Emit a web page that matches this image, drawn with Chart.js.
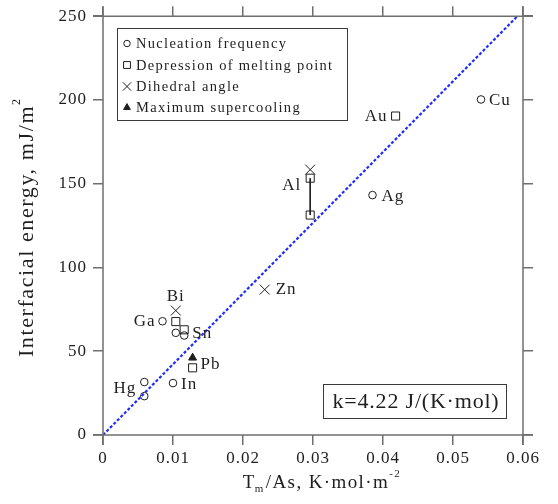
<!DOCTYPE html>
<html>
<head>
<meta charset="utf-8">
<script src="https://cdn.jsdelivr.net/npm/chart.js@4.4.1/dist/chart.umd.min.js"></script>
<style>
  html, body { margin: 0; padding: 0; background: #fff; }
  #wrap { width: 558px; height: 504px; }
</style>
</head>
<body>
<div id="wrap"><canvas id="chart" width="558" height="504"></canvas></div>
<script>
// values
const nucX = [0.0540, 0.0385, 0.0085, 0.0104, 0.0116, 0.0100, 0.0059, 0.0059];
const nucY = [200.3, 143.2, 67.9, 61.0, 59.4, 31.0, 31.6, 23.2];

const meltX = [0.0418, 0.0296, 0.0296, 0.0104, 0.0116, 0.0128];
const meltY = [190.4, 153.3, 131.3, 67.7, 62.8, 40.1];

const diheX = [0.0296, 0.0231, 0.0104];
const diheY = [158.4, 86.8, 74.3];

const superX = [0.0128];
const superY = [46.1];

const alBarX = [0.0296, 0.0296];
const alBarY = [153.3, 131.3];

const fitX = [0, 0.0592];
const fitY = [0, 250];

const xTicks = [0, 0.01, 0.02, 0.03, 0.04, 0.05, 0.06];
const yTicks = [0, 50, 100, 150, 200, 250];

const seriesNames = ['Nucleation frequency', 'Depression of melting point', 'Dihedral angle', 'Maximum supercooling'];

// element labels: anchor value + which point they hang off
const elemNames = ['Cu', 'Au', 'Ag', 'Al', 'Zn', 'Bi', 'Ga', 'Sn', 'Pb', 'In', 'Hg'];
const elemX = [0.0540, 0.0418, 0.0385, 0.0296, 0.0231, 0.0104, 0.0085, 0.0116, 0.0128, 0.0100, 0.0059];
const elemY = [200.3, 190.4, 143.2, 153.3, 86.8, 74.3, 67.9, 59.4, 46.1, 31.0, 31.6];

const kText = 'k=4.22 J/(K\u00b7mol)';

// label placement (pixels): dx, dy, align
const labelPlace = {
  Cu: [8, 1, 'left'], Au: [-8, 0, 'right'], Ag: [9, 1, 'left'], Al: [-9, 7, 'right'],
  Zn: [11, 0, 'left'], Bi: [0, -14, 'center'], Ga: [-7, 0, 'right'], Sn: [8, -2, 'left'],
  Pb: [8, 7, 'left'], In: [8, 1, 'left'], Hg: [-8, 6, 'right']
};

const pts = (xs, ys) => xs.map((x, i) => ({ x, y: ys[i] }));

const AXIS = '#6f6f6f';
const INK = '#1e1e1e';
const SERIF = '"Liberation Serif", "Times New Roman", serif';

const markerStyles = [
  { pointStyle: 'circle', radius: 3.8, fill: false },
  { pointStyle: 'rect', radius: 5.7, fill: false },
  { pointStyle: 'crossRot', radius: 7, fill: false },
  { pointStyle: 'triangle', radius: 4.6, fill: true }
];

function drawMarker(ctx, style, x, y) {
  ctx.save();
  ctx.strokeStyle = INK;
  ctx.fillStyle = style.fill ? INK : 'rgba(0,0,0,0)';
  ctx.lineWidth = 1;
  Chart.helpers.drawPoint(ctx, { pointStyle: style.pointStyle, radius: style.radius, rotation: 0, borderWidth: 1 }, x, y);
  ctx.restore();
}

const decorPlugin = {
  id: 'decor',
  beforeDraw(chart) {
    chart.ctx.letterSpacing = '1px';
  },
  afterDraw(chart) {
    const ctx = chart.ctx;
    const a = chart.chartArea;
    ctx.save();

    // axis frame, lines run past the corners
    ctx.strokeStyle = AXIS;
    ctx.lineWidth = 1.5;
    ctx.beginPath();
    ctx.moveTo(a.left - 10, a.bottom); ctx.lineTo(a.right + 10, a.bottom);
    ctx.moveTo(a.left - 10, a.top); ctx.lineTo(a.right + 10, a.top);
    ctx.moveTo(a.left, a.top - 10); ctx.lineTo(a.left, a.bottom + 10);
    ctx.moveTo(a.right, a.top - 10); ctx.lineTo(a.right, a.bottom + 10);
    ctx.stroke();

    // element labels
    const xs = chart.scales.x, ys = chart.scales.y;
    ctx.fillStyle = INK;
    ctx.font = '17px ' + SERIF;
    ctx.letterSpacing = '1px';
    ctx.textBaseline = 'middle';
    elemNames.forEach((n, i) => {
      const p = labelPlace[n];
      ctx.textAlign = p[2];
      ctx.fillText(n, xs.getPixelForValue(elemX[i]) + p[0], ys.getPixelForValue(elemY[i]) + p[1]);
    });

    // legend box
    ctx.strokeStyle = '#3a3a3a';
    ctx.lineWidth = 1;
    ctx.strokeRect(117.5, 28.5, 230, 92);
    ctx.font = '14.5px ' + SERIF;
    ctx.letterSpacing = '1.3px';
    ctx.textAlign = 'left';
    const rows = [43.5, 65, 86.5, 107.5];
    seriesNames.forEach((name, i) => {
      const st = Object.assign({}, markerStyles[i], { radius: markerStyles[i].radius * 0.85 });
      drawMarker(ctx, st, 127, rows[i]);
      ctx.fillStyle = INK;
      ctx.fillText(name, 136, rows[i] + 1);
    });

    // k box
    ctx.strokeStyle = '#3a3a3a';
    ctx.strokeRect(323.5, 384.5, 183, 34);
    ctx.font = '22px ' + SERIF;
    ctx.letterSpacing = '0.8px';
    ctx.textAlign = 'center';
    ctx.fillText(kText, 416, 402);

    // y title
    ctx.save();
    ctx.translate(27, 227);
    ctx.rotate(-Math.PI / 2);
    ctx.font = '22px ' + SERIF;
    ctx.letterSpacing = '1.6px';
    ctx.textAlign = 'left';
    const yMain = 'Interfacial energy, mJ/m';
    const wy = ctx.measureText(yMain).width;
    const supW = 8;
    const x0 = -(wy + supW) / 2;
    ctx.fillText(yMain, x0, 0);
    ctx.font = '12px ' + SERIF;
    ctx.fillText('2', x0 + wy, -10);
    ctx.restore();

    // x title: T_m/As, K·mol·m^-2
    ctx.font = '19px ' + SERIF;
    ctx.letterSpacing = '1.4px';
    ctx.textAlign = 'left';
    ctx.textBaseline = 'alphabetic';
    const partA = 'T';
    const partB = '/As, K\u00b7mol\u00b7m';
    const wA = ctx.measureText(partA).width;
    const wB = ctx.measureText(partB).width;
    ctx.font = '11px ' + SERIF;
    const wSub = ctx.measureText('m').width;
    const wSup = ctx.measureText('-2').width;
    const total = wA + wSub + wB + wSup;
    let cx = (a.left + a.right) / 2 + 9 - total / 2;
    const base = 488;
    ctx.font = '19px ' + SERIF;
    ctx.fillText(partA, cx, base); cx += wA;
    ctx.font = '11px ' + SERIF;
    ctx.fillText('m', cx - 1, base + 4); cx += wSub;
    ctx.font = '19px ' + SERIF;
    ctx.fillText(partB, cx, base); cx += wB;
    ctx.font = '11px ' + SERIF;
    ctx.fillText('-2', cx, base - 11);

    ctx.restore();
  }
};

const tickFont = { family: SERIF, size: 17 };

const baseGrid = { drawOnChartArea: false, drawTicks: true, tickLength: 10, color: AXIS, lineWidth: 1.5 };

function scatterSet(label, xs, ys, st) {
  return {
    label,
    data: pts(xs, ys),
    showLine: false,
    pointStyle: st.pointStyle,
    pointRadius: st.radius,
    pointBorderWidth: 1,
    pointBorderColor: INK,
    pointBackgroundColor: st.fill ? INK : 'rgba(0,0,0,0)',
    pointHoverRadius: st.radius
  };
}

new Chart(document.getElementById('chart'), {
  type: 'scatter',
  data: {
    datasets: [
      {
        label: 'fit',
        data: pts(fitX, fitY),
        showLine: true,
        borderColor: '#1f2cff',
        borderWidth: 2.2,
        borderDash: [3, 2],
        pointRadius: 0,
        fill: false
      },
      {
        label: 'Al range',
        data: pts(alBarX, alBarY),
        showLine: true,
        borderColor: INK,
        borderWidth: 1,
        pointRadius: 0
      },
      scatterSet(seriesNames[0], nucX, nucY, markerStyles[0]),
      scatterSet(seriesNames[1], meltX, meltY, markerStyles[1]),
      scatterSet(seriesNames[2], diheX, diheY, markerStyles[2]),
      scatterSet(seriesNames[3], superX, superY, markerStyles[3])
    ]
  },
  options: {
    responsive: false,
    animation: false,
    events: [],
    layout: { padding: 0 },
    plugins: { legend: { display: false }, tooltip: { enabled: false } },
    scales: {
      x: {
        type: 'linear', position: 'bottom', min: 0, max: 0.06,
        afterBuildTicks: s => { s.ticks = xTicks.map(v => ({ value: v })); },
        ticks: { font: tickFont, color: INK, padding: 3, maxRotation: 0,
          callback: v => v === 0 ? '0' : v.toFixed(2) },
        grid: baseGrid,
        border: { display: false },
        afterFit: s => { s.height = 69; }
      },
      x2: {
        type: 'linear', position: 'top', min: 0, max: 0.06,
        afterBuildTicks: s => { s.ticks = xTicks.map(v => ({ value: v })); },
        ticks: { display: false },
        grid: baseGrid,
        border: { display: false },
        afterFit: s => { s.height = 15; }
      },
      y: {
        type: 'linear', position: 'left', min: 0, max: 250,
        afterBuildTicks: s => { s.ticks = yTicks.map(v => ({ value: v })); },
        ticks: { font: tickFont, color: INK, padding: 6 },
        grid: baseGrid,
        border: { display: false },
        afterFit: s => { s.width = 103; }
      },
      y2: {
        type: 'linear', position: 'right', min: 0, max: 250,
        afterBuildTicks: s => { s.ticks = yTicks.map(v => ({ value: v })); },
        ticks: { display: false },
        grid: baseGrid,
        border: { display: false },
        afterFit: s => { s.width = 35; }
      }
    }
  },
  plugins: [decorPlugin]
});
</script>
</body>
</html>
